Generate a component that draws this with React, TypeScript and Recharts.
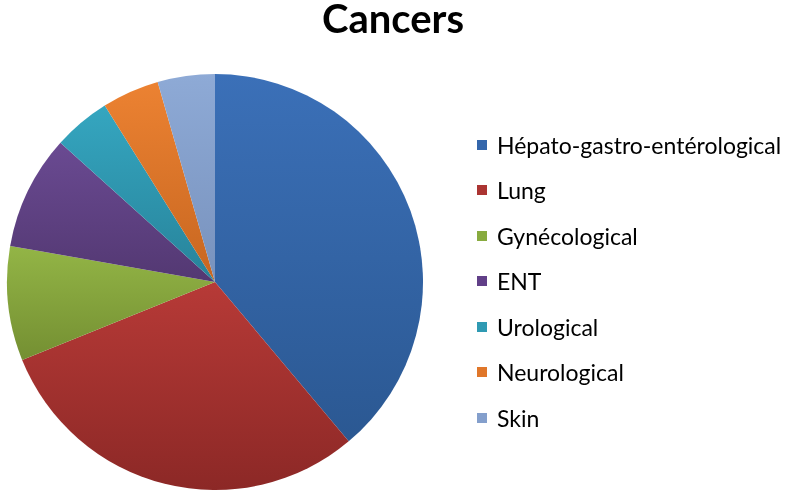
import { PieChart, Pie, Cell, Legend } from 'recharts'

const categories = ['Hépato-gastro-entérological', 'Lung', 'Gynécological', 'ENT', 'Urological', 'Neurological', 'Skin']
const counts = [35, 27, 8, 8, 4, 4, 4]
const topColors = ['#3b70b8', '#b73a37', '#93b546', '#6a4a92', '#35a6c0', '#ec8232', '#8eaad6']
const bottomColors = ['#2b5892', '#8c2826', '#748f32', '#533872', '#27839a', '#c76620', '#7892bd']
const legendColors = ['#3466ab', '#ab3432', '#88ab3f', '#613f88', '#2f9ab3', '#e0772a', '#849fcc']

const data = categories.map((name, i) => ({ name, value: counts[i] }))

function LegendList() {
  return (
    <div style={{ fontFamily: 'Lato, "Open Sans", sans-serif', fontSize: 23, color: '#000' }}>
      {categories.map((c, i) => (
        <div key={c} style={{ display: 'flex', alignItems: 'center', height: 45.5 }}>
          <span style={{ width: 10, height: 10, background: legendColors[i], marginRight: 10, display: 'inline-block' }} />
          <span>{c}</span>
        </div>
      ))}
    </div>
  )
}

export default function App() {
  return (
    <div style={{ position: 'fixed', left: 0, top: 0, width: 786, height: 501, background: '#fff' }}>
      <div
        style={{
          position: 'absolute',
          left: 0,
          width: 786,
          top: 0,
          height: 40,
          lineHeight: '36px',
          textAlign: 'center',
          fontFamily: 'Lato, "Open Sans", sans-serif',
          fontWeight: 'bold',
          fontSize: 40,
          color: '#000',
        }}
      >
        Cancers
      </div>
      <PieChart width={786} height={501}>
        <defs>
          {topColors.map((c, i) => (
            <linearGradient key={i} id={`grad${i}`} x1="0" y1="0" x2="0" y2="1">
              <stop offset="0%" stopColor={c} />
              <stop offset="100%" stopColor={bottomColors[i]} />
            </linearGradient>
          ))}
        </defs>
        <Pie
          data={data}
          dataKey="value"
          nameKey="name"
          cx={210}
          cy={277}
          outerRadius={208}
          startAngle={90}
          endAngle={-270}
          stroke="none"
          isAnimationActive={false}
        >
          {data.map((d, i) => (
            <Cell key={d.name} fill={`url(#grad${i})`} />
          ))}
        </Pie>
        <Legend
          layout="vertical"
          content={() => <LegendList />}
          wrapperStyle={{ left: 477, top: 122, width: 310 }}
        />
      </PieChart>
    </div>
  )
}
